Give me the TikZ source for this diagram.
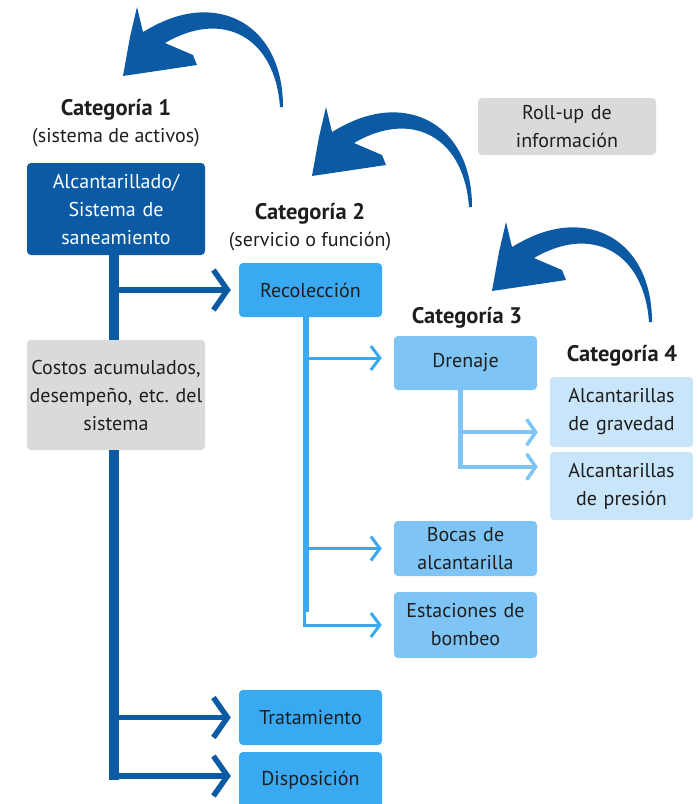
\documentclass[tikz,border=0pt]{standalone}
\usepackage{fontspec}
\setmainfont{PT Sans}
\usetikzlibrary{arrows.meta,calc}
\frenchspacing

\definecolor{catone}{HTML}{0B5AA3}
\definecolor{cattwo}{HTML}{39A9F1}
\definecolor{catthree}{HTML}{7EC5F5}
\definecolor{catfour}{HTML}{C8E5FA}
\definecolor{infogray}{HTML}{DADADA}
\definecolor{ink}{HTML}{1E1E1E}

% curved roll-up arrow, tail at #1
\newcommand{\rollarrow}[1]{%
\fill[catone, shift={#1}] (0,0) .. controls (0,-65) and (-40,-100) .. (-90,-94)
  .. controls (-112,-91) and (-128,-82) .. (-140,-75) -- (-146,-100) -- (-153,-70)
  -- (-160,-31) -- (-86,-42) -- (-90,-52) -- (-118,-64)
  .. controls (-60,-98) and (-8,-70) .. (-3,0) -- cycle;}
\newcommand{\cattitle}[1]{{\fontsize{22.5}{27}\selectfont\bfseries #1}}

\begin{document}
\begin{tikzpicture}[x=1pt,y=-1pt,
  box/.style={rounded corners=4pt, align=center, text=ink, inner sep=0pt,
    font=\fontsize{20}{28}\selectfont},
  head/.style={align=center, text=ink, font=\fontsize{20}{27}\selectfont},
  wide/.style={box, minimum width=178pt, text width=178pt},
  narrow/.style={box, minimum width=143pt, text width=143pt},
  bigline/.style={catone, line width=5.5pt, -{Straight Barb[length=14pt,width=40pt]}, shorten >=8pt},
  midline/.style={cattwo, line width=3pt, -{Straight Barb[length=9pt,width=24pt]}, shorten >=12pt},
  smallline/.style={catthree, line width=3.5pt, -{Straight Barb[length=9pt,width=26pt]}, shorten >=12pt}]
\clip (0,0) rectangle (698,804);

\node[head] (h1) at (116,123) {\cattitle{Categoría 1}\\(sistema de activos)};
\node[head] (h2) at (310,227) {\cattitle{Categoría 2}\\(servicio o función)};
\node[head] (h3) at (467,318) {\cattitle{Categoría 3}};
\node[head] (h4) at (622,356) {\cattitle{Categoría 4}};

\node[wide, fill=catone, text=white, minimum height=92pt] (sist) at (116,209) {Alcantarillado/\\Sistema de\\saneamiento};
\node[wide, fill=infogray, minimum height=110pt] (costos) at (116,395) {Costos acumulados,\\desempeño, etc. del\\sistema};
\node[wide, fill=infogray, minimum height=57pt] (rollup) at (567,126.5) {Roll-up de\\información};

\node[narrow, fill=cattwo, minimum height=54pt] (reco) at (310.5,290) {Recolección};
\node[narrow, fill=cattwo, minimum height=55pt] (trat) at (310.5,717.5) {Tratamiento};
\node[narrow, fill=cattwo, minimum height=56pt] (disp) at (310.5,780) {Disposición};

\node[narrow, fill=catthree, minimum height=54pt] (dren) at (465.5,363) {Drenaje};
\node[narrow, fill=catthree, minimum height=55pt] (bocas) at (465.5,548.5) {Bocas de\\alcantarilla};
\node[narrow, fill=catthree, minimum height=66pt] (esta) at (465.5,625) {Estaciones de\\bombeo};

\node[narrow, fill=catfour, minimum height=70pt] (grav) at (621.5,412) {Alcantarillas\\de gravedad};
\node[narrow, fill=catfour, minimum height=68pt] (pres) at (621.5,486) {Alcantarillas\\de presión};

% category 1 trunk
\draw[catone, line width=10pt] ([xshift=-2pt]sist.south) -- ([xshift=-2pt]costos.north);
\draw[catone, line width=10pt] ([xshift=-2pt]costos.south) -- ([xshift=-2pt]costos.south |- 0,780);
\draw[bigline] ([xshift=-2pt]sist.south |- reco.west) -- (reco.west);
\draw[bigline] ([xshift=-2pt]costos.south |- trat.west) -- (trat.west);
\draw[bigline] ([xshift=-6.5pt]costos.south |- 0,776) -- (disp.west |- 0,776);

% category 2 trunk
\draw[cattwo, line width=6pt] ([xshift=-5pt]reco.south) -- ([xshift=-5pt]reco.south |- 0,612);
\draw[midline] ([xshift=-5pt]reco.south |- 0,358) -- (dren.west |- 0,358);
\draw[midline] ([xshift=-5pt]reco.south |- bocas.west) -- (bocas.west);
\draw[midline] ([xshift=-6.5pt]reco.south |- 0,608) -- ([xshift=-6.5pt]reco.south |- esta.west) -- (esta.west);

% category 3 trunk
\coordinate (gbr) at ($(grav.south west)+(0,-15)$);
\coordinate (pbr) at ($(pres.north west)+(0,15)$);
\draw[catthree, line width=5pt] ([xshift=-5pt]dren.south) -- ([xshift=-5pt]dren.south |- pbr);
\draw[smallline] ([xshift=-5pt]dren.south |- gbr) -- (gbr);
\draw[smallline] ([xshift=-7.5pt]dren.south |- pbr) -- (pbr);

% roll-up arrows
\rollarrow{(283,107)}
\rollarrow{(472,207)}
\rollarrow{(652,322)}
\end{tikzpicture}
\end{document}
